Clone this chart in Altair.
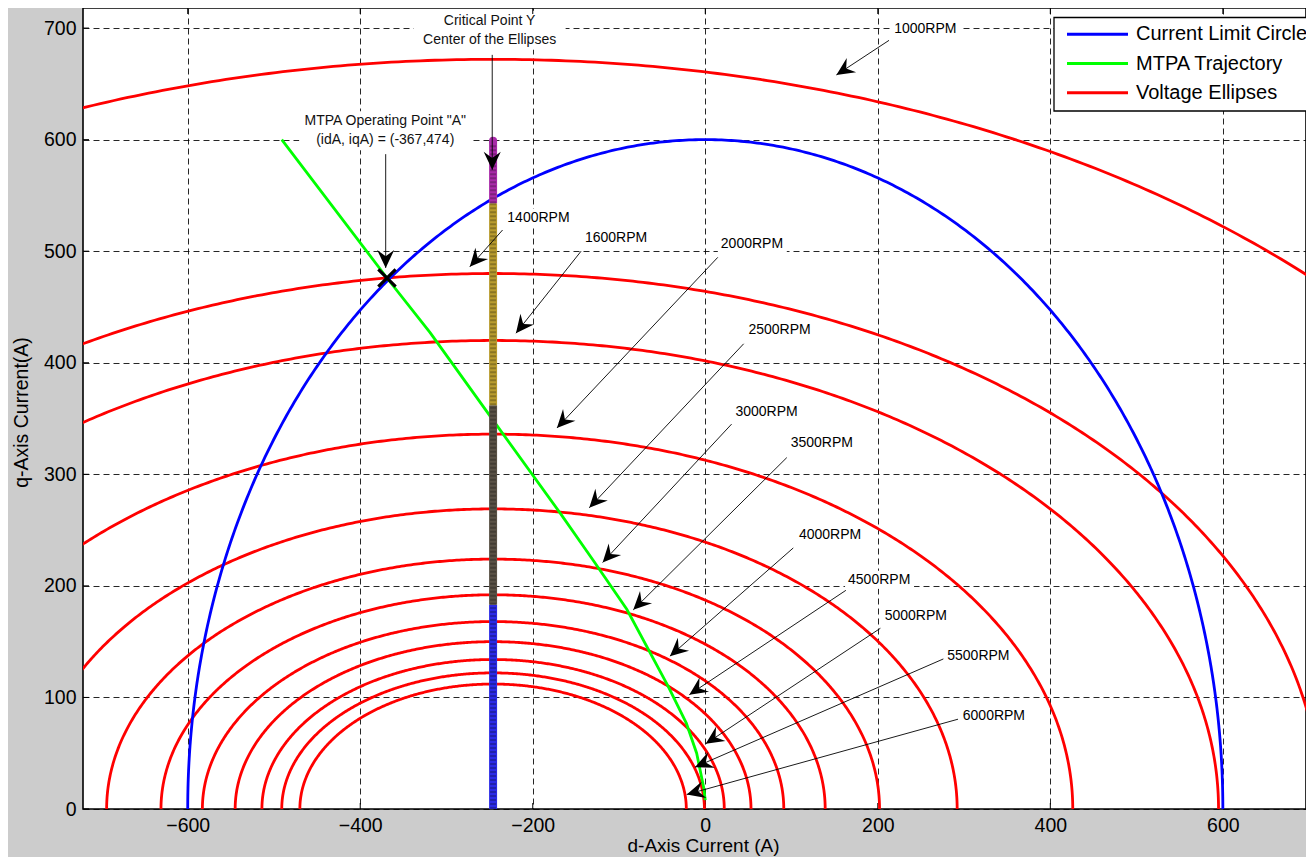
import math
import altair as alt
import pandas as pd

# ------------------------------------------------------------------
# Values
# ------------------------------------------------------------------
rpm_labels = ["1000RPM", "1400RPM", "1600RPM", "2000RPM", "2500RPM", "3000RPM",
              "3500RPM", "4000RPM", "4500RPM", "5000RPM", "5500RPM", "6000RPM"]
ellipse_center_d = -246
ellipse_semi_q = [672, 480, 420, 336, 269, 224, 192, 168, 150, 134, 122, 112]
ellipse_semi_d = [1344, 960, 841, 672, 538, 448, 385, 337, 299, 268, 245, 224]

current_limit_radius = 600

mtpa_d = [-491, -369, -319, -246.5, -168, -130, -91, -43, -22, -10, -2, 0]
mtpa_q = [600, 476, 427, 349, 265, 223, 179, 110, 77, 50, 20, 8]

point_a_d = [-369]
point_a_q = [476]

critical_d = -246
critical_seg = ["s1", "s2", "s3", "s4"]
critical_from = [0, 183, 362, 543]
critical_to = [183, 362, 543, 599]

# rpm label anchors (left edge, vertical middle)
rpm_label_d = [219, -229.5, -139.5, 18, 50, 35, 99, 108.5, 165.5, 208, 280.5, 298.5]
rpm_label_q = [699.5, 530, 512, 506.5, 429.5, 356, 328, 246, 205.5, 173, 137, 83.5]

# arrows: MTPA A, Critical Y, then 1000 ... 6000 RPM
arrow_start_d = [-370.5, -247, 213, -235, -144, 14.5, 44.5, 30.5, 94.5, 102, 163, 203, 276, 293]
arrow_start_q = [587, 676, 689, 519, 500, 494.5, 417, 345, 315, 234, 196, 162, 134.5, 80.5]
arrow_tip_d = [-370.5, -247, 152, -273, -219.5, -172, -134.5, -119, -83.5, -41, -18.5, 0.5, -12, -21.5]
arrow_tip_q = [485, 573, 658, 486, 426.5, 341.5, 270, 221, 178.5, 137, 102.5, 58.5, 37.5, 13]

note_center_d = [-371, -371, -250, -250]
note_center_q = [616.5, 599.5, 706.5, 689.5]
note_text = ['MTPA Operating Point "A"', '(idA, iqA) = (-367,474)',
             'Critical Point Y', 'Center of the Ellipses']

x_ticks = [-600, -400, -200, 0, 200, 400, 600]
y_ticks = [0, 100, 200, 300, 400, 500, 600, 700]

legend_names = ["Current Limit Circle", "MTPA Trajectory", "Voltage Ellipses"]

# ------------------------------------------------------------------
# Layout / style
# ------------------------------------------------------------------
W, H = 1223, 801
XDOM = [-721.4, 696.4]
YDOM = [0, 718]
kx = W / (XDOM[1] - XDOM[0])
ky = H / (YDOM[1] - YDOM[0])
FONT = "Liberation Sans"

RED, BLUE, GREEN = "#ff0000", "#0000ff", "#00ff00"
seg_colors = ["#2b2be6", "#5a5246", "#b99c2e", "#a82aa8"]

xs = alt.Scale(domain=XDOM, nice=False, zero=False)
ys = alt.Scale(domain=YDOM, nice=False, zero=False)
xaxis = alt.Axis(values=x_ticks, title="d-Axis Current (A)", labelPadding=7,
                 titleX=620, titleY=36, titleAlign="center", titleBaseline="middle",
                 titleFontSize=19)
yaxis = alt.Axis(values=y_ticks, title="q-Axis Current(A)", labelPadding=7,
                 titleX=-62, titleY=404, titleAngle=270, titleAlign="center",
                 titleBaseline="middle")


def X(field="d"):
    return alt.X(f"{field}:Q", scale=xs, axis=xaxis)


def Y(field="q"):
    return alt.Y(f"{field}:Q", scale=ys, axis=yaxis)


# ------------------------------------------------------------------
# Curves built from the read parameters
# ------------------------------------------------------------------
N = 500
rows = []
for name, a, b in zip(rpm_labels, ellipse_semi_d, ellipse_semi_q):
    for i in range(N + 1):
        t = math.pi * i / N
        rows.append({"e": name, "i": i, "d": ellipse_center_d + a * math.cos(t),
                     "q": b * math.sin(t)})
ell_df = pd.DataFrame(rows)

circ_rows = []
for i in range(N + 1):
    t = math.pi * i / N
    circ_rows.append({"i": i, "d": current_limit_radius * math.cos(t),
                      "q": current_limit_radius * math.sin(t)})
circ_df = pd.DataFrame(circ_rows)

mtpa_df = pd.DataFrame({"d": mtpa_d, "q": mtpa_q, "i": range(len(mtpa_d))})

crit_df = pd.DataFrame({"seg": critical_seg, "q": critical_from, "q2": critical_to,
                        "d": [critical_d] * 4})
crit_top_df = pd.DataFrame({"d": [critical_d], "q": [critical_to[-1]]})

arr_df = pd.DataFrame({"d": arrow_start_d, "q": arrow_start_q,
                       "d2": arrow_tip_d, "q2": arrow_tip_q})
arr_df["ang"] = [
    (math.degrees(math.atan2(-(tq - sq) * ky, (td - sd) * kx)) + 360) % 360
    for sd, sq, td, tq in zip(arrow_start_d, arrow_start_q, arrow_tip_d, arrow_tip_q)
]
head_df = pd.DataFrame({"d": arrow_tip_d, "q": arrow_tip_q, "ang": arr_df["ang"]})

lab_df = pd.DataFrame({"d": rpm_label_d, "q": rpm_label_q, "t": rpm_labels})
lab_df["d1"] = lab_df["d"] - 3 / kx
lab_df["d2"] = lab_df["d"] + 66 / kx
lab_df["q1"] = lab_df["q"] - 9 / ky
lab_df["q2"] = lab_df["q"] + 9 / ky

note_df = pd.DataFrame({"d": note_center_d, "q": note_center_q, "t": note_text})
note_box = pd.DataFrame({
    "d1": [note_center_d[0] - 86 / kx, note_center_d[2] - 76 / kx],
    "d2": [note_center_d[0] + 86 / kx, note_center_d[2] + 76 / kx],
    "q1": [note_center_q[1] - 10 / ky, note_center_q[3] - 10 / ky],
    "q2": [note_center_q[0] + 10 / ky, note_center_q[2] + 10 / ky],
})

xt_df = pd.DataFrame({"d": x_ticks})
yt_df = pd.DataFrame({"q": y_ticks})
a_df = pd.DataFrame({"d": point_a_d, "q": point_a_q})

ARROW = "M0,0 L-2,-0.95 L-1.3,0 L-2,0.95 Z"
XMARK = "M-1,-1 L1,1 M-1,1 L1,-1"

# ------------------------------------------------------------------
# Layers
# ------------------------------------------------------------------
tick_bottom = alt.Chart(xt_df).mark_rule(color="black", strokeWidth=1).encode(
    x=X(), y=alt.value(H), y2=alt.value(H - 6))
tick_top = alt.Chart(xt_df).mark_rule(color="black", strokeWidth=1).encode(
    x=X(), y=alt.value(0), y2=alt.value(6))
tick_left = alt.Chart(yt_df).mark_rule(color="black", strokeWidth=1).encode(
    y=Y(), x=alt.value(0), x2=alt.value(6))

lab_bg = alt.Chart(lab_df).mark_rect(color="white").encode(
    x=X("d1"), x2="d2", y=Y("q1"), y2="q2")
note_bg = alt.Chart(note_box).mark_rect(color="white").encode(
    x=X("d1"), x2="d2", y=Y("q1"), y2="q2")

ellipses = alt.Chart(ell_df).mark_line(color=RED, strokeWidth=2.8, clip=True).encode(
    x=X(), y=Y(), detail="e:N", order="i:Q")
circle = alt.Chart(circ_df).mark_line(color=BLUE, strokeWidth=2.8, clip=True).encode(
    x=X(), y=Y(), order="i:Q")
mtpa = alt.Chart(mtpa_df).mark_line(color=GREEN, strokeWidth=2.8, clip=True).encode(
    x=X(), y=Y(), order="i:Q")

crit = alt.Chart(crit_df).mark_rule(strokeWidth=8, strokeCap="butt", clip=True).encode(
    x=X(), y=Y(), y2="q2",
    color=alt.Color("seg:N", scale=alt.Scale(domain=critical_seg, range=seg_colors),
                    legend=None))
crit_tex = alt.Chart(crit_df).mark_rule(strokeWidth=6, strokeDash=[2, 2], color="black",
                                        opacity=0.25, clip=True).encode(
    x=X(), y=Y(), y2="q2")
crit_top = alt.Chart(crit_top_df).mark_point(filled=True, size=64, shape="circle",
                                             color=seg_colors[-1], opacity=1).encode(
    x=X(), y=Y())

arrows = alt.Chart(arr_df).mark_rule(color="black", strokeWidth=0.9).encode(
    x=X(), y=Y(), x2="d2", y2="q2")
heads = alt.Chart(head_df).mark_point(shape=ARROW, filled=True, size=324, color="black",
                                      opacity=1).encode(
    x=X(), y=Y(), angle=alt.Angle("ang:Q", scale=None))

xmark = alt.Chart(a_df).mark_point(shape=XMARK, filled=False, size=300, color="black",
                                   strokeWidth=3.2, opacity=1).encode(x=X(), y=Y())

labels = alt.Chart(lab_df).mark_text(font=FONT, fontSize=14, align="left",
                                     baseline="middle", color="black").encode(
    x=X(), y=Y(), text="t:N")
notes = alt.Chart(note_df).mark_text(font=FONT, fontSize=14, align="center",
                                     baseline="middle", color="#111").encode(
    x=X(), y=Y(), text="t:N")

# ---- legend drawn as marks (box is cut by the right edge, as in the reference)
leg_colors = [BLUE, GREEN, RED]
leg_box = alt.Chart(pd.DataFrame({"k": [0]})).mark_rect(
    fill="white", stroke="black", strokeWidth=1.3).encode(
    x=alt.value(971), x2=alt.value(1260), y=alt.value(9.5), y2=alt.value(103))
leg_lines = []
leg_texts = []
for r, (nm, col) in enumerate(zip(legend_names, leg_colors)):
    yy = 26.3 + r * 29.2
    one = pd.DataFrame({"name": [nm]})
    leg_lines.append(alt.Chart(one).mark_rule(color=col, strokeWidth=3).encode(
        x=alt.value(984), x2=alt.value(1045), y=alt.value(yy)))
    leg_texts.append(alt.Chart(one).mark_text(font=FONT, fontSize=20, align="left",
                                              baseline="middle", color="black").encode(
        x=alt.value(1053), y=alt.value(yy), text="name:N"))

chart = alt.layer(
    lab_bg, note_bg, tick_bottom, tick_top, tick_left,
    ellipses, circle, mtpa, crit, crit_tex, crit_top,
    arrows, heads, xmark, labels, notes,
    leg_box, *leg_lines, *leg_texts,
).properties(
    width=W, height=H,
    padding={"left": 75, "top": 0, "right": 0, "bottom": 48},
    autosize=alt.AutoSizeParams(type="none"),
    background="#cccccc",
).configure_view(
    fill="white", stroke="black", strokeWidth=1.6,
).configure_axis(
    labelFont=FONT, labelFontSize=19.5, labelColor="black",
    titleFont=FONT, titleFontSize=19.5, titleFontWeight="normal", titleColor="black",
    ticks=False, domain=False, grid=True,
    gridColor="#000000", gridDash=[6, 4], gridWidth=1, gridOpacity=0.85,
)

chart.save("out.html", embed_options={"renderer": "svg", "actions": False})
